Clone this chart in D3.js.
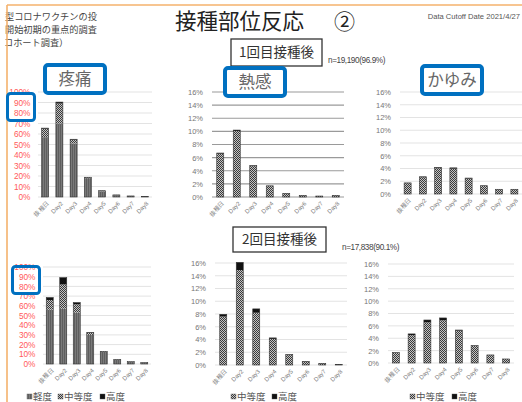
<!DOCTYPE html>
<html><head><meta charset="utf-8">
<script src="https://cdn.jsdelivr.net/npm/d3@7"></script>
<style>
html,body{margin:0;padding:0;background:#fff;overflow:hidden;}
svg{display:block;font-family:"Noto Sans CJK JP","Noto Sans",sans-serif;}
</style></head>
<body>
<svg id="c" width="522" height="402"></svg>
<script>
// ---- data ----
const days = ["接種日","Day2","Day3","Day4","Day5","Day6","Day7","Day8"];
const painTicks = [0,10,20,30,40,50,60,70,80,90,100];
const pctTicks = [0,2,4,6,8,10,12,14,16];

const painDose1Mild     = [57, 70, 51, 18, 5.5, 1.8, 0.9, 0.4];
const painDose1Moderate = [8, 19, 3.5, 0.6, 0.4, 0.2, 0.1, 0.1];
const painDose1Severe   = [0.6, 1.4, 0.5, 0.2, 0.1, 0, 0, 0];

const feverDose1Moderate = [6.6, 10.05, 4.7, 1.67, 0.54, 0.24, 0.15, 0.24];
const feverDose1Severe   = [0.1, 0.15, 0.08, 0.03, 0.02, 0.01, 0, 0.01];

const itchDose1Moderate = [1.69, 2.62, 4.04, 3.98, 2.42, 1.27, 0.72, 0.72];
const itchDose1Severe   = [0.05, 0.08, 0.12, 0.12, 0.08, 0.03, 0.02, 0.02];

const painDose2Mild     = [56, 57, 53, 30, 12.5, 4.5, 2.2, 1.3];
const painDose2Moderate = [10, 25, 8.5, 2, 0.5, 0.3, 0.2, 0.1];
const painDose2Severe   = [2.5, 7, 1.8, 0.5, 0.05, 0, 0, 0];

const feverDose2Moderate = [7.6, 14.9, 8.2, 4.1, 1.55, 0.55, 0.24, 0.09];
const feverDose2Severe   = [0.35, 1.2, 0.6, 0.15, 0.08, 0.03, 0.02, 0.01];

const itchDose2Moderate = [1.62, 4.5, 6.57, 6.9, 5.23, 2.75, 1.27, 0.63];
const itchDose2Severe   = [0.05, 0.2, 0.38, 0.38, 0.1, 0.05, 0.03, 0.02];

const legendPain = ["軽度","中等度","高度"];
const legendOther = ["中等度","高度"];

const svg = d3.select("#c");
const defs = svg.append("defs");
// patterns
const pm = defs.append("pattern").attr("id","mild").attr("patternUnits","userSpaceOnUse").attr("width",2).attr("height",2);
pm.append("rect").attr("width",2).attr("height",2).attr("fill","#7a7a7a");
pm.append("rect").attr("width",1).attr("height",2).attr("fill","#5e5e5e");
const pmo = defs.append("pattern").attr("id","mod").attr("patternUnits","userSpaceOnUse").attr("width",2).attr("height",2);
pmo.append("rect").attr("width",2).attr("height",2).attr("fill","#c4c4c4");
pmo.append("rect").attr("width",1).attr("height",1).attr("fill","#3a3a3a");
pmo.append("rect").attr("x",1).attr("y",1).attr("width",1).attr("height",1).attr("fill","#3a3a3a");
const fills = {"軽度":"url(#mild)","中等度":"url(#mod)","高度":"#111"};

// header texts (left block, as visible in the reference)
const lt = ["型コロナワクチンの投","開始初期の重点的調査","コホート調査）"];
const lx0 = [5, 5, 4];
lt.forEach((t,i)=>svg.append("text").attr("x",lx0[i]).attr("y",20+i*13).attr("font-size",9.2).attr("fill","#444").text(t));

// frame lines
svg.append("line").attr("x1",7).attr("x2",522).attr("y1",5).attr("y2",5).attr("stroke","#F4B26C").attr("stroke-width",1.6);
svg.append("line").attr("x1",7).attr("x2",7).attr("y1",5).attr("y2",402).attr("stroke","#F4B26C").attr("stroke-width",1.6);

svg.append("text").attr("x",175).attr("y",29).attr("font-size",21.5).attr("fill","#222").text("接種部位反応");
svg.append("text").attr("x",334).attr("y",29).attr("font-size",21).attr("fill","#222").text("②");
svg.append("text").attr("x",520).attr("y",19).attr("text-anchor","end").attr("font-size",7.6).attr("fill","#555").attr("font-family","Liberation Sans, Arial, sans-serif").text("Data Cutoff Date 2021/4/27");

function boxLabel(x,y,w,h,t,fs){
  svg.append("rect").attr("x",x).attr("y",y).attr("width",w).attr("height",h).attr("fill","#fff").attr("stroke","#333").attr("stroke-width",1.3);
  svg.append("text").attr("x",x+w/2).attr("y",y+h/2+fs*0.36).attr("text-anchor","middle").attr("font-size",fs).attr("fill","#333").text(t);
}

function chart(o){
  const g = svg.append("g");
  const step = (o.x1-o.x0)/days.length;
  const pi = 1 - 7/step;
  const x = d3.scaleBand().domain(days).range([o.x0,o.x1]).paddingInner(pi).paddingOuter(pi/2);
  const y = d3.scaleLinear().domain([0,o.max]).range([o.yb,o.yt]);
  // grid
  g.selectAll("line.grid").data(o.ticks).join("line")
    .attr("x1",o.x0).attr("x2",o.x1).attr("y1",d=>y(d)).attr("y2",d=>y(d))
    .attr("stroke",o.grid).attr("stroke-width",o.gridW||1);
  // y labels
  const ax = d3.axisLeft(y).tickValues(o.ticks).tickFormat(d=>d+"%").tickSize(0).tickPadding(0);
  const ag = g.append("g").attr("transform",`translate(${o.lx},0)`).call(ax);
  ag.select(".domain").remove();
  ag.selectAll("text").attr("font-size",o.fs).attr("fill",o.lc).attr("font-family","Liberation Sans, Arial, sans-serif");
  // stacked bars
  const keys = o.keys;
  const rows = days.map((d,i)=>{const r={day:d}; keys.forEach((k,j)=>r[k]=o.series[j][i]); return r;});
  const st = d3.stack().keys(keys)(rows);
  st.forEach(layer=>{
    g.selectAll(null).data(layer).join("rect")
      .attr("x",d=>x(d.data.day)).attr("width",x.bandwidth())
      .attr("y",d=>y(d[1])).attr("height",d=>Math.max(0,y(d[0])-y(d[1])))
      .attr("fill",fills[layer.key]);
  });
  // outline of whole bar
  g.selectAll(null).data(rows).join("rect")
    .attr("x",d=>x(d.day)).attr("width",x.bandwidth())
    .attr("y",d=>y(d3.sum(keys,k=>d[k]))).attr("height",d=>y(0)-y(d3.sum(keys,k=>d[k])))
    .attr("fill","none").attr("stroke","#333").attr("stroke-width",0.6);
  // x labels
  const xa = d3.axisBottom(x).tickSize(0).tickPadding(0);
  const xg = g.append("g").attr("transform",`translate(0,${o.yb})`).call(xa);
  xg.select(".domain").remove();
  xg.selectAll("text").attr("font-size",6).attr("fill","#777").attr("text-anchor","end")
    .attr("dy",0).attr("font-family","Liberation Sans, Arial, sans-serif")
    .attr("transform","translate(4,7) rotate(-45)");
  // legend
  if(o.legend){
    let lx = o.legend.x;
    o.legend.items.forEach((k,i)=>{
      svg.append("rect").attr("x",lx).attr("y",o.legend.y-6).attr("width",5).attr("height",5).attr("fill",fills[k]).attr("stroke","#555").attr("stroke-width",0.4);
      svg.append("text").attr("x",lx+6).attr("y",o.legend.y).attr("font-size",9.5).attr("fill","#555").text(k);
      lx += o.legend.gap[i];
    });
  }
}

chart({x0:38,x1:152,yt:92,yb:197,max:100,ticks:painTicks,lx:30.5,fs:8.3,lc:"#FF5A5A",grid:"#e3e3e3",
  keys:legendPain,series:[painDose1Mild,painDose1Moderate,painDose1Severe]});
chart({x0:212,x1:344,yt:92,yb:197,max:16,ticks:pctTicks,lx:203,fs:7.5,lc:"#777",grid:"#9a9a9a",gridW:1.1,
  keys:legendOther,series:[feverDose1Moderate,feverDose1Severe]});
chart({x0:400,x1:522,yt:92,yb:194,max:16,ticks:pctTicks,lx:391,fs:7.5,lc:"#777",grid:"#e3e3e3",
  keys:legendOther,series:[itchDose1Moderate,itchDose1Severe]});
chart({x0:43,x1:151,yt:267,yb:364,max:100,ticks:painTicks,lx:35.5,fs:8.3,lc:"#FF5A5A",grid:"#e3e3e3",
  keys:legendPain,series:[painDose2Mild,painDose2Moderate,painDose2Severe],
  legend:{x:27,y:400,items:legendPain,gap:[31,42]}});
chart({x0:215,x1:347,yt:263,yb:365,max:16,ticks:pctTicks,lx:206,fs:7.5,lc:"#777",grid:"#e3e3e3",
  keys:legendOther,series:[feverDose2Moderate,feverDose2Severe],
  legend:{x:231,y:400,items:legendOther,gap:[41]}});
chart({x0:388,x1:514,yt:264,yb:363,max:16,ticks:pctTicks,lx:379,fs:7.5,lc:"#777",grid:"#e3e3e3",
  keys:legendOther,series:[itchDose2Moderate,itchDose2Severe],
  legend:{x:410,y:400,items:legendOther,gap:[42]}});

// section boxes
boxLabel(231,39,91,27,"1回目接種後",13.5);
svg.append("text").attr("x",328).attr("y",63).attr("font-size",8.2).attr("fill","#444").attr("letter-spacing",-0.4).attr("font-family","Liberation Sans, Arial, sans-serif").text("n=19,190(96.9%)");
boxLabel(233,227,93,25,"2回目接種後",13.5);
svg.append("text").attr("x",342).attr("y",250).attr("font-size",8.2).attr("fill","#444").attr("letter-spacing",-0.4).attr("font-family","Liberation Sans, Arial, sans-serif").text("n=17,838(90.1%)");

// blue highlight boxes
function blueBox(x,y,w,h,t,sw){
  svg.append("rect").attr("x",x).attr("y",y).attr("width",w).attr("height",h).attr("rx",3)
    .attr("fill",t?"#fff":"none").attr("stroke","#0070C0").attr("stroke-width",sw);
  if(t) svg.append("text").attr("x",x+w/2).attr("y",y+h/2+6).attr("text-anchor","middle").attr("font-size",16.5).attr("fill","#666").text(t);
}
blueBox(45,65,60,28,"疼痛",4);
blueBox(225,68,60,28,"熱感",4);
blueBox(422,66,60,28,"かゆみ",4);
blueBox(7.5,93.5,27,27,null,3);
blueBox(12.5,266.5,27,27,null,3);
</script>
</body></html>
